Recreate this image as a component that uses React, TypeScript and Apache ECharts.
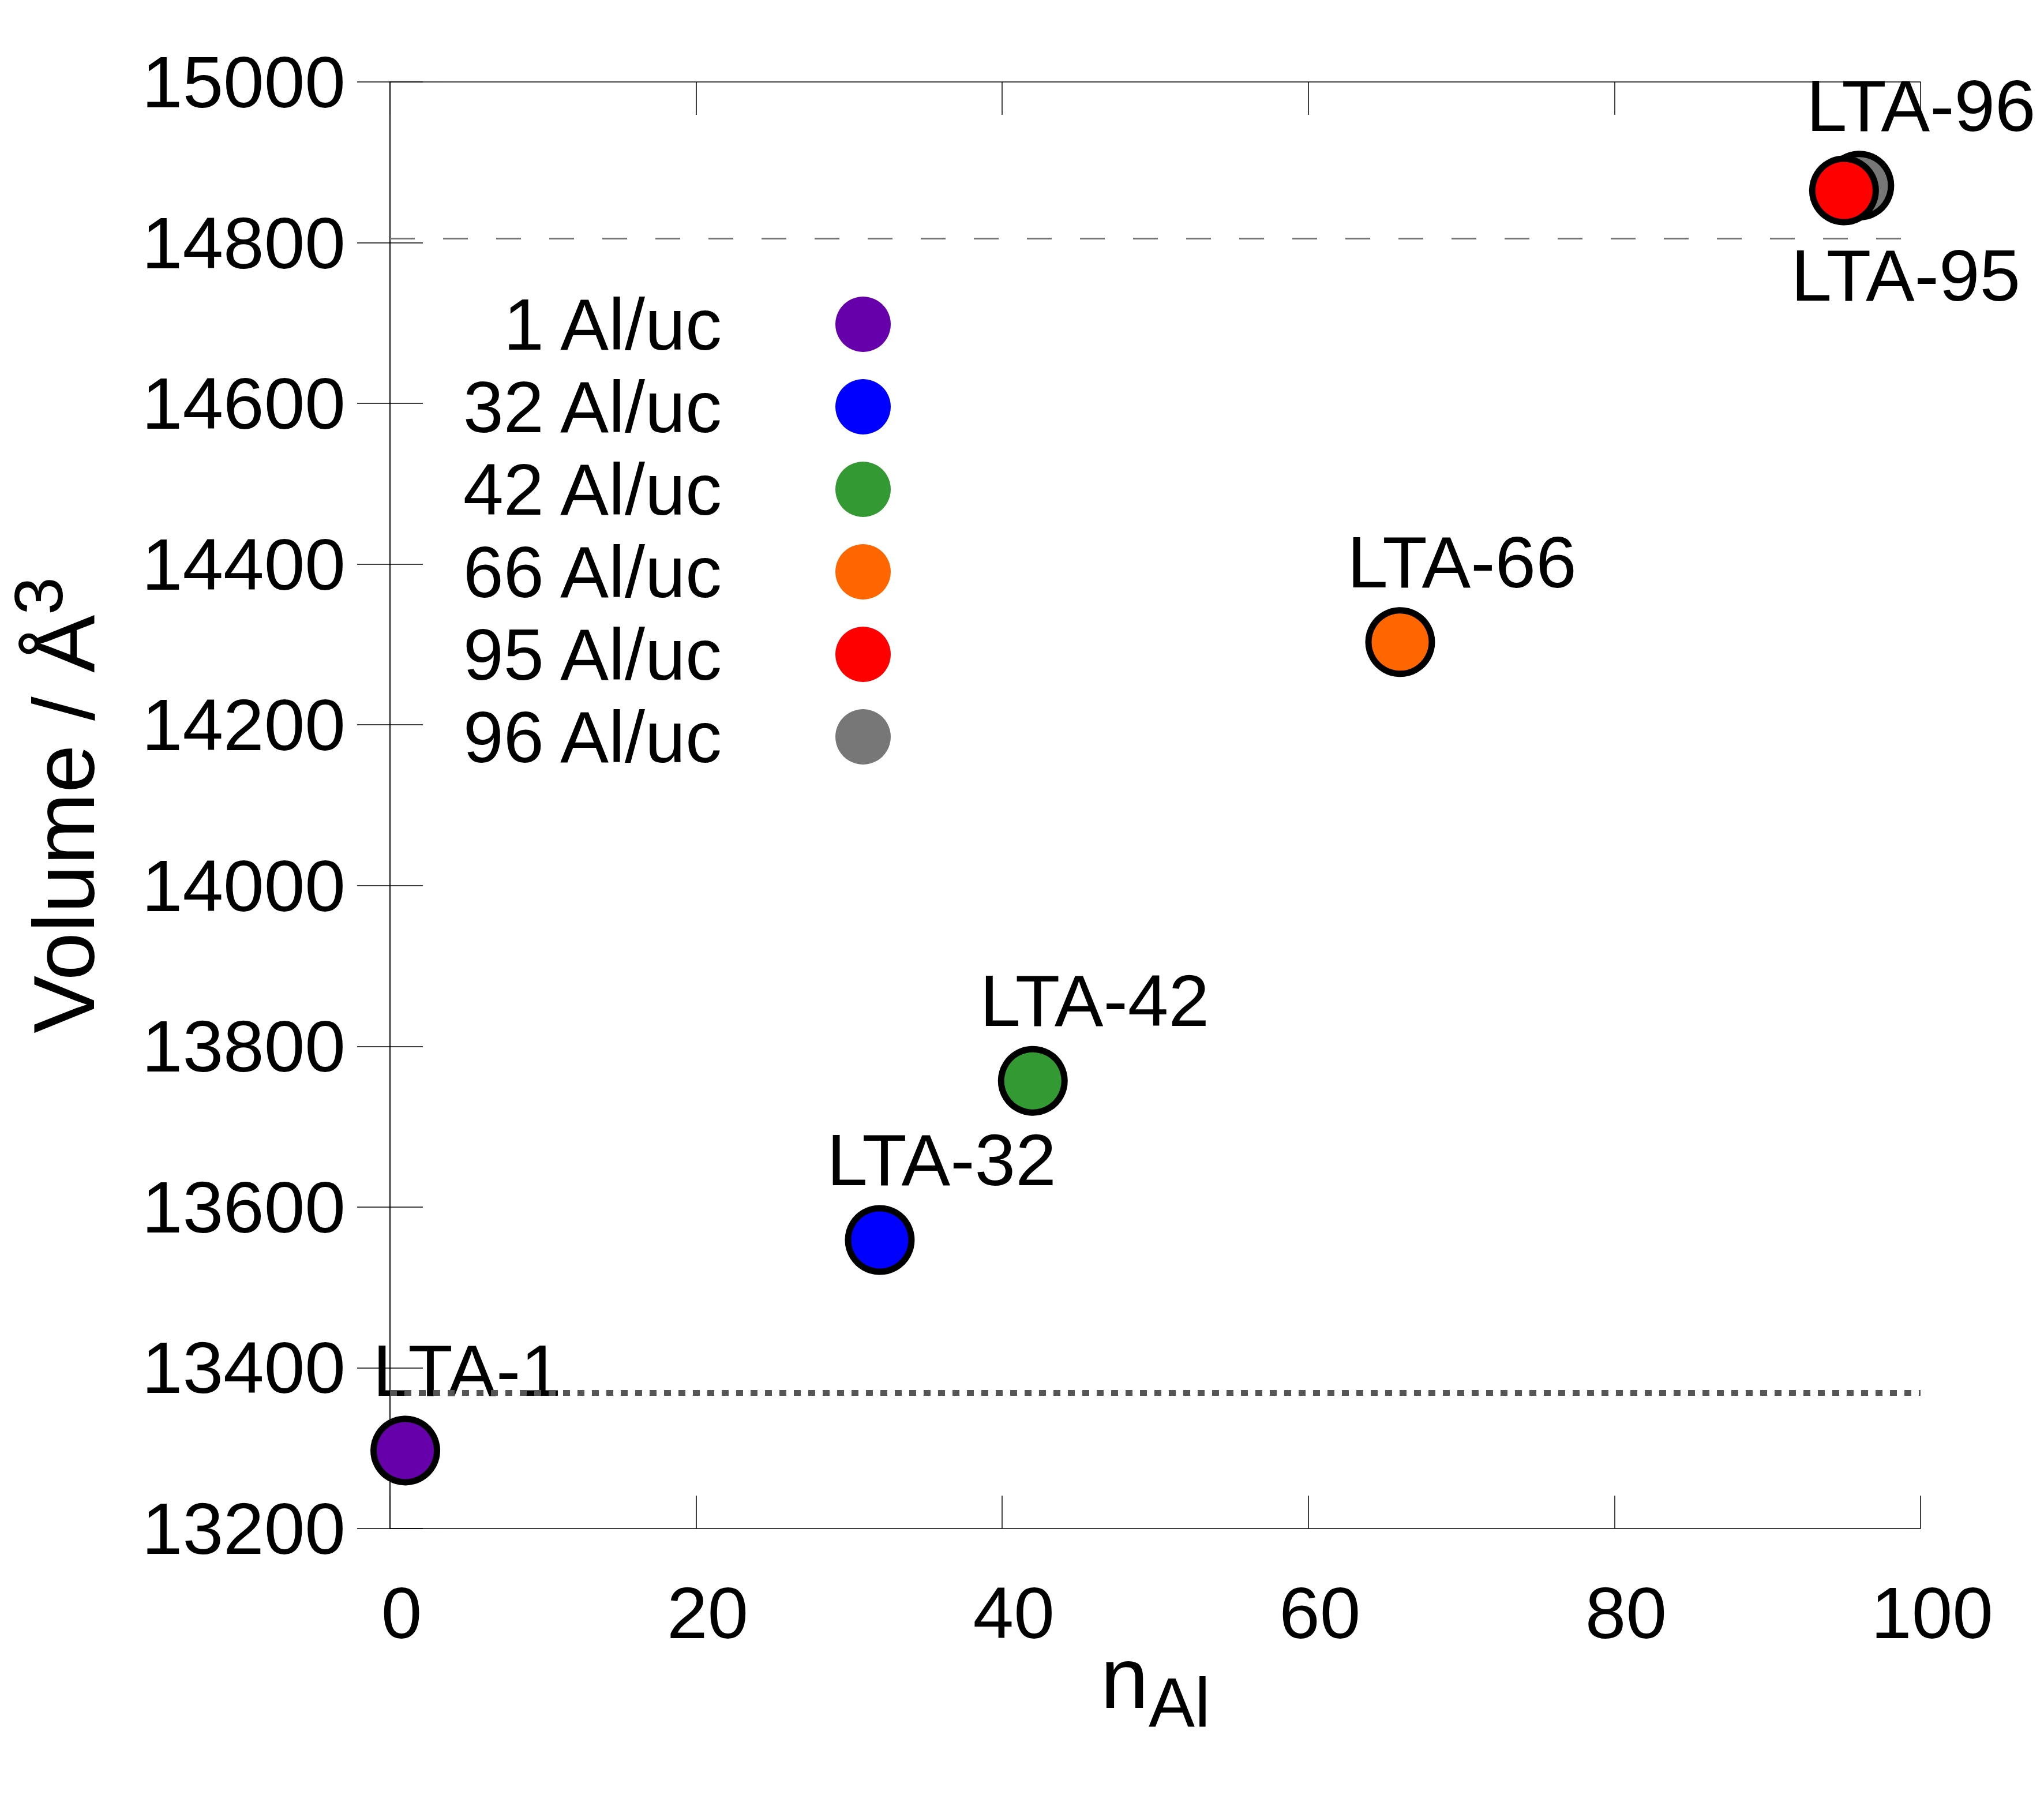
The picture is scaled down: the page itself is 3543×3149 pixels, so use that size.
import React, { useEffect, useRef } from "react";
import * as echarts from "echarts";

const seriesNames = ["1 Al/uc", "32 Al/uc", "42 Al/uc", "66 Al/uc", "95 Al/uc", "96 Al/uc"];
const pointLabels = ["LTA-1", "LTA-32", "LTA-42", "LTA-66", "LTA-95", "LTA-96"];
const nAl = [1, 32, 42, 66, 95, 96];
const volume = [13297, 13559, 13757, 14303, 14865, 14871];
const colors = ["#6600aa", "#0000ff", "#339933", "#ff6600", "#ff0000", "#777777"];
const labelBelow = [false, false, false, false, true, false];
const dashedRef = 14805;
const dottedRef = 13369;

const FONT = "Liberation Sans, Arial, sans-serif";

export default function App() {
  const ref = useRef<HTMLDivElement>(null);
  useEffect(() => {
    document.body.style.margin = "0";
    if (!ref.current) return;
    const chart = echarts.init(ref.current, null, { renderer: "svg" });

    const series: any[] = seriesNames.map((name, i) => ({
      name,
      type: "scatter",
      data: [[nAl[i], volume[i]]],
      symbol: "circle",
      symbolSize: 110,
      z: i === 4 ? 5 : 3,
      itemStyle: { color: colors[i], borderColor: "#000", borderWidth: 11, opacity: 1 },
      label: {
        show: true,
        position: "inside",
        formatter: pointLabels[i],
        offset: labelBelow[i] ? [107, 147] : [107, -139],
        fontSize: 127,
        fontFamily: FONT,
        color: "#000",
      },
      emphasis: { disabled: true },
      ...(i === 0
        ? {
            markLine: {
              silent: true,
              symbol: "none",
              label: { show: false },
              animation: false,
              data: [
                { yAxis: dashedRef, lineStyle: { color: "#777", width: 3, type: [43, 49] } },
                { yAxis: dottedRef, lineStyle: { color: "#555", width: 10, type: [12, 13] } },
              ],
            },
          }
        : {}),
    }));

    const axisLine = { show: true, lineStyle: { color: "#000", width: 1.5 } };
    const axisTick = { show: true, inside: true, length: 57, lineStyle: { color: "#000", width: 1.5 } };

    chart.setOption({
      animation: false,
      backgroundColor: "#fff",
      grid: {
        left: 676,
        right: 214,
        top: 142,
        bottom: 500,
        containLabel: false,
        outerBoundsMode: "none",
      },
      legend: {
        orient: "vertical",
        align: "right",
        right: 1999,
        top: 499,
        padding: 0,
        itemWidth: 480,
        itemHeight: 96,
        itemGap: 17,
        icon: "circle",
        selectedMode: false,
        itemStyle: { borderWidth: 0 },
        textStyle: { fontSize: 126, fontFamily: FONT, color: "#000" },
        data: seriesNames,
      },
      xAxis: [
        {
          type: "value",
          min: 0,
          max: 100,
          interval: 20,
          position: "bottom",
          axisLine,
          axisTick,
          splitLine: { show: false },
          axisLabel: {
            fontSize: 127,
            fontFamily: FONT,
            color: "#000",
            margin: 82,
            padding: [0, 0, 0, 40],
            formatter: (v: number) => String(v),
          },
          name: "{n|n}{s|Al}",
          nameLocation: "middle",
          nameGap: 184,
          nameMoveOverlap: false,
          nameTextStyle: {
            fontFamily: FONT,
            color: "#000",
            rich: {
              n: { fontSize: 150, lineHeight: 150, fontFamily: FONT, color: "#000" },
              s: { fontSize: 120, lineHeight: 150, padding: [84, 0, 0, 0], fontFamily: FONT, color: "#000" },
            },
          },
        },
        {
          type: "value",
          min: 0,
          max: 100,
          interval: 20,
          position: "top",
          axisLine,
          axisTick,
          axisLabel: { show: false },
          splitLine: { show: false },
        },
      ],
      yAxis: [
        {
          type: "value",
          min: 13200,
          max: 15000,
          interval: 200,
          position: "left",
          axisLine,
          axisTick,
          splitLine: { show: false },
          axisLabel: {
            fontSize: 127,
            fontFamily: FONT,
            color: "#000",
            margin: 77,
            formatter: (v: number) => String(v),
          },
          name: "{m|Volume / Å}{p|3}",
          nameLocation: "middle",
          nameGap: 490,
          nameMoveOverlap: false,
          nameTextStyle: {
            fontFamily: FONT,
            color: "#000",
            rich: {
              m: { fontSize: 150, lineHeight: 150, fontFamily: FONT, color: "#000" },
              p: { fontSize: 118, lineHeight: 150, padding: [0, 0, 88, 0], fontFamily: FONT, color: "#000" },
            },
          },
        },
        {
          type: "value",
          min: 13200,
          max: 15000,
          interval: 200,
          position: "right",
          axisLine,
          axisTick,
          axisLabel: { show: false },
          splitLine: { show: false },
        },
      ],
      series,
    });
    return () => chart.dispose();
  }, []);
  return <div ref={ref} style={{ width: 3543, height: 3149 }} />;
}
